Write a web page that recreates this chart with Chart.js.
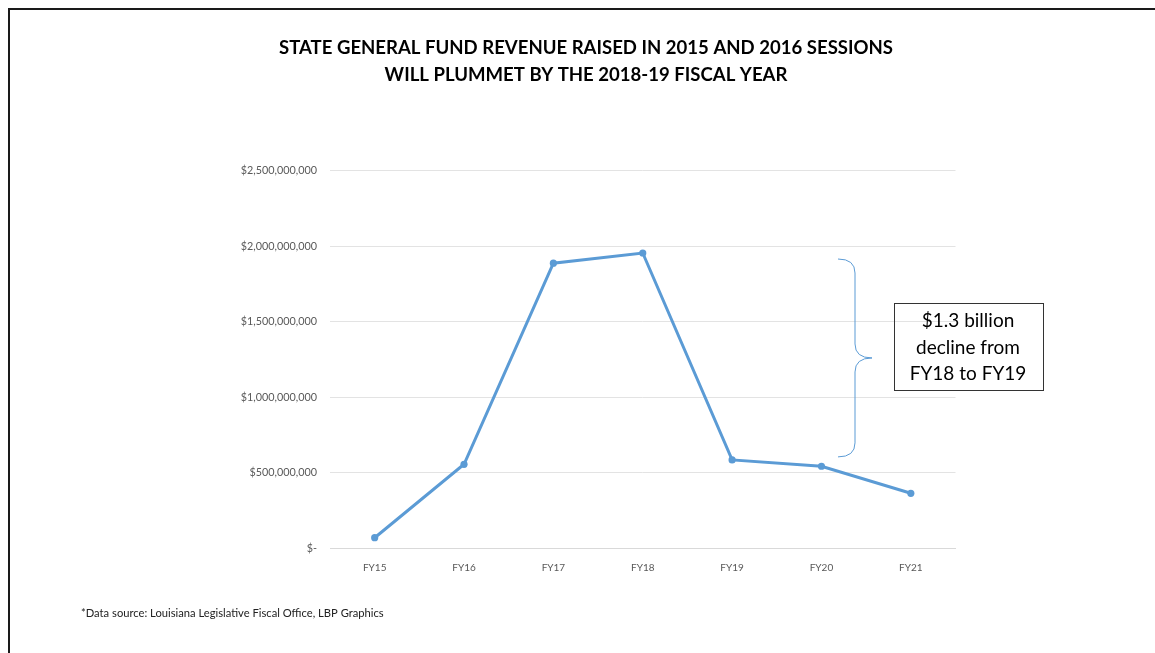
<!DOCTYPE html>
<html>
<head>
<meta charset="utf-8">
<script src="https://cdn.jsdelivr.net/npm/chart.js@4.4.1/dist/chart.umd.min.js"></script>
<style>
  html, body { margin: 0; padding: 0; background: #ffffff; }
  #wrap { position: relative; width: 1155px; height: 653px; }
</style>
</head>
<body>
<div id="wrap"><canvas id="c" width="1155" height="653"></canvas></div>
<script>
// ---- data ----
const categories = ["FY15", "FY16", "FY17", "FY18", "FY19", "FY20", "FY21"];
const revenue = [70000000, 556000000, 1887000000, 1954000000, 585000000, 543000000, 364000000];
const yTicks = [0, 500000000, 1000000000, 1500000000, 2000000000, 2500000000];
const titleLines = ["STATE GENERAL FUND REVENUE RAISED IN 2015 AND 2016 SESSIONS", "WILL PLUMMET BY THE 2018-19 FISCAL YEAR"];
const calloutLines = ["$1.3 billion", "decline from", "FY18 to FY19"];
const sourceNote = "*Data source: Louisiana Legislative Fiscal Office, LBP Graphics";

const FONT = "Lato, 'Open Sans', 'DejaVu Sans', sans-serif";
const BLUE = "#5B9BD5";

function fmtMoney(v) {
  if (v === 0) return "$-";
  return "$" + v.toLocaleString("en-US");
}

const decor = {
  id: "decor",
  afterDraw(chart) {
    const ctx = chart.ctx;
    const ys = chart.scales.y;
    ctx.save();
    // outer frame
    ctx.strokeStyle = "#1a1a1a";
    ctx.lineWidth = 2;
    ctx.beginPath();
    ctx.moveTo(9, 660);
    ctx.lineTo(9, 9);
    ctx.lineTo(1160, 9);
    ctx.stroke();

    // title
    ctx.fillStyle = "#000000";
    ctx.textAlign = "center";
    ctx.textBaseline = "middle";
    ctx.font = "bold 18px " + FONT;
    const w0 = ctx.measureText(titleLines[0]).width;
    const sx = 614 / w0;
    titleLines.forEach((t, i) => {
      ctx.save();
      ctx.translate(586, 48 + i * 27);
      ctx.scale(sx, 1);
      ctx.fillText(t, 0, 0);
      ctx.restore();
    });

    // footnote
    ctx.font = "11.2px " + FONT;
    ctx.textAlign = "left";
    ctx.fillStyle = "#222222";
    ctx.fillText(sourceNote, 81, 613);

    // brace spanning FY18 -> FY19 drop
    const top = ys.getPixelForValue(revenue[3]) + 6;
    const bot = ys.getPixelForValue(revenue[4]) - 3;
    const mid = (top + bot) / 2;
    const x0 = 838, xv = 855, xt = 872, r = 14;
    ctx.strokeStyle = BLUE;
    ctx.lineWidth = 1;
    ctx.beginPath();
    ctx.moveTo(x0, top);
    ctx.quadraticCurveTo(xv, top, xv, top + r);
    ctx.lineTo(xv, mid - r);
    ctx.quadraticCurveTo(xv, mid, xt, mid);
    ctx.quadraticCurveTo(xv, mid, xv, mid + r);
    ctx.lineTo(xv, bot - r);
    ctx.quadraticCurveTo(xv, bot, x0, bot);
    ctx.stroke();

    // callout box
    ctx.strokeStyle = "#333333";
    ctx.lineWidth = 1;
    ctx.strokeRect(894.5, 303.5, 149, 87);
    ctx.fillStyle = "#000000";
    ctx.font = "19px " + FONT;
    ctx.textAlign = "center";
    calloutLines.forEach((t, i) => ctx.fillText(t, 968, 321 + i * 26.5));
    ctx.restore();
  }
};

new Chart(document.getElementById("c"), {
  type: "line",
  data: {
    labels: categories,
    datasets: [{
      data: revenue,
      borderColor: BLUE,
      backgroundColor: BLUE,
      borderWidth: 3,
      pointRadius: 3.6,
      pointHoverRadius: 3.6,
      pointBackgroundColor: BLUE,
      pointBorderColor: BLUE,
      pointBorderWidth: 0,
      tension: 0,
      clip: false
    }]
  },
  options: {
    responsive: false,
    animation: false,
    devicePixelRatio: 1,
    layout: { padding: { top: 170.5, right: 199.5, bottom: 0, left: 0 } },
    plugins: { legend: { display: false }, tooltip: { enabled: false }, title: { display: false } },
    scales: {
      x: {
        offset: true,
        grid: { display: false, drawTicks: false },
        border: { display: true, color: "#d9d9d9", width: 1 },
        ticks: { color: "#595959", font: { family: FONT, size: 10 }, padding: 13, maxRotation: 0 },
        afterFit(s) { s.height = 104.7; }
      },
      y: {
        min: 0,
        max: 2500000000,
        afterBuildTicks(s) { s.ticks = yTicks.map(v => ({ value: v })); },
        grid: { color: "#e3e3e3", lineWidth: 1, drawTicks: false },
        border: { display: false },
        ticks: {
          color: "#595959",
          font: { family: FONT, size: 10.8 },
          padding: 13,
          callback: (v) => fmtMoney(v)
        },
        afterFit(s) { s.width = 330; }
      }
    }
  },
  plugins: [decor]
});
</script>
</body>
</html>
